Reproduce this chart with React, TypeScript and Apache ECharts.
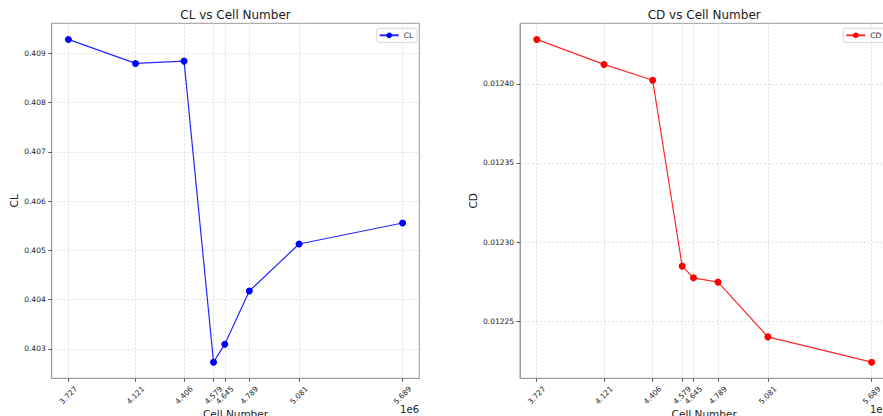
import React, { useEffect, useRef } from "react";
import * as echarts from "echarts";

const cellNumbers = [3.727e6, 4.121e6, 4.406e6, 4.579e6, 4.645e6, 4.789e6, 5.081e6, 5.689e6];
const clValues = [0.409284, 0.408797, 0.408844, 0.40273, 0.403095, 0.404174, 0.40513, 0.405556];
const cdValues = [0.0124281, 0.0124123, 0.0124023, 0.0122848, 0.0122774, 0.0122747, 0.0122401, 0.0122241];
const clTicks = [0.403, 0.404, 0.405, 0.406, 0.407, 0.408, 0.409];
const cdTicks = [0.01225, 0.0123, 0.01235, 0.0124];

const FONT = "DejaVu Sans";

function padRange(vals: number[]) {
  const mn = Math.min(...vals);
  const mx = Math.max(...vals);
  const m = (mx - mn) * 0.05;
  return [mn - m, mx + m];
}

export default function App() {
  const ref = useRef<HTMLDivElement>(null);
  useEffect(() => {
    if (!ref.current) return;
    const chart = echarts.init(ref.current, undefined, { renderer: "svg" });
    const [xMin, xMax] = padRange(cellNumbers);
    const [clMin, clMax] = padRange(clValues);
    const [cdMin, cdMax] = padRange(cdValues);

    const gridStyle = { show: true, borderColor: "#999", borderWidth: 1, backgroundColor: "transparent", containLabel: false, outerBoundsMode: "none" };
    const splitLine = { show: true, lineStyle: { color: "#d8d8d8", width: 0.8, type: [2, 2] as any } };
    const xAxisBase = (gi: number) => ({
      type: "value" as const,
      gridIndex: gi,
      min: xMin,
      max: xMax,
      name: "Cell Number",
      nameLocation: "middle" as const,
      nameGap: 30,
      nameMoveOverlap: false,
      nameTextStyle: { fontFamily: FONT, fontSize: 10.5, color: "#222", verticalAlign: "top" },
      axisLine: { show: true, lineStyle: { color: "#999", width: 1 } },
      axisTick: { show: true, length: 3.5, lineStyle: { color: "#333", width: 0.8 }, customValues: cellNumbers },
      axisLabel: {
        customValues: cellNumbers,
        rotate: 45,
        margin: 17,
        align: "center",
        verticalAlign: "middle",
        fontFamily: FONT,
        fontSize: 7.5,
        color: "#222",
        hideOverlap: false,
        formatter: (v: number) => (v / 1e6).toFixed(3),
      },
      splitLine,
    });
    const yAxisBase = (gi: number, name: string, mn: number, mx: number, ticks: number[], dec: number) => ({
      type: "value" as const,
      gridIndex: gi,
      min: mn,
      max: mx,
      name,
      nameLocation: "middle" as const,
      nameGap: dec === 3 ? 32 : 42,
      nameRotate: 90,
      nameMoveOverlap: false,
      nameTextStyle: { fontFamily: FONT, fontSize: 10.5, color: "#222" },
      axisLine: { show: true, lineStyle: { color: "#999", width: 1 } },
      axisTick: { show: true, length: 3.5, lineStyle: { color: "#333", width: 0.8 }, customValues: ticks },
      axisLabel: {
        customValues: ticks,
        margin: 6,
        fontFamily: FONT,
        fontSize: 7.5,
        color: "#222",
        formatter: (v: number) => v.toFixed(dec),
      },
      splitLine,
    });

    chart.setOption({
      animation: false,
      backgroundColor: "#fff",
      title: [
        { text: "CL vs Cell Number", left: 235.5, top: 9, textAlign: "center", padding: 0, textStyle: { fontFamily: FONT, fontSize: 12, fontWeight: "normal", color: "#222" } },
        { text: "CD vs Cell Number", left: 704.2, top: 9, textAlign: "center", padding: 0, textStyle: { fontFamily: FONT, fontSize: 12, fontWeight: "normal", color: "#222" } },
      ],
      legend: [
        {
          data: ["CL"], left: 376.7, top: 28.3, padding: [3, 4, 3, 2], itemWidth: 19, itemHeight: 7, itemGap: 5,
          borderColor: "#ccc", borderWidth: 0.8, borderRadius: 2, backgroundColor: "#fff",
          textStyle: { fontFamily: FONT, fontSize: 7.5, color: "#222" },
        },
        {
          data: ["CD"], left: 843.3, top: 28.3, padding: [3, 4, 3, 2], itemWidth: 19, itemHeight: 7, itemGap: 5,
          borderColor: "#ccc", borderWidth: 0.8, borderRadius: 2, backgroundColor: "#fff",
          textStyle: { fontFamily: FONT, fontSize: 7.5, color: "#222" },
        },
      ],
      grid: [
        { left: 51.7, top: 23.3, width: 367.6, height: 355, ...gridStyle },
        { left: 520, top: 23.3, width: 368.4, height: 355, ...gridStyle },
      ],
      xAxis: [xAxisBase(0), xAxisBase(1)],
      yAxis: [
        yAxisBase(0, "CL", clMin, clMax, clTicks, 3),
        yAxisBase(1, "CD", cdMin, cdMax, cdTicks, 5),
      ],
      graphic: [
        { type: "text", right: 883 - 419, top: 404, style: { text: "1e6", fontFamily: FONT, fontSize: 10, fill: "#222" } },
        { type: "text", left: 870, top: 404, style: { text: "1e6", fontFamily: FONT, fontSize: 10, fill: "#222" } },
      ],
      series: [
        {
          name: "CL", type: "line", xAxisIndex: 0, yAxisIndex: 0,
          data: cellNumbers.map((x, i) => [x, clValues[i]]),
          symbol: "circle", symbolSize: 7, showSymbol: true,
          itemStyle: { color: "#0000ff" }, lineStyle: { color: "#0000ff", width: 1.2, opacity: 0.85 },
        },
        {
          name: "CD", type: "line", xAxisIndex: 1, yAxisIndex: 1,
          data: cellNumbers.map((x, i) => [x, cdValues[i]]),
          symbol: "circle", symbolSize: 7, showSymbol: true,
          itemStyle: { color: "#ff0000" }, lineStyle: { color: "#ff0000", width: 1.2, opacity: 0.85 },
        },
      ],
    });
    return () => chart.dispose();
  }, []);
  return <div ref={ref} style={{ position: "fixed", left: 0, top: 0, width: 883, height: 416 }} />;
}
